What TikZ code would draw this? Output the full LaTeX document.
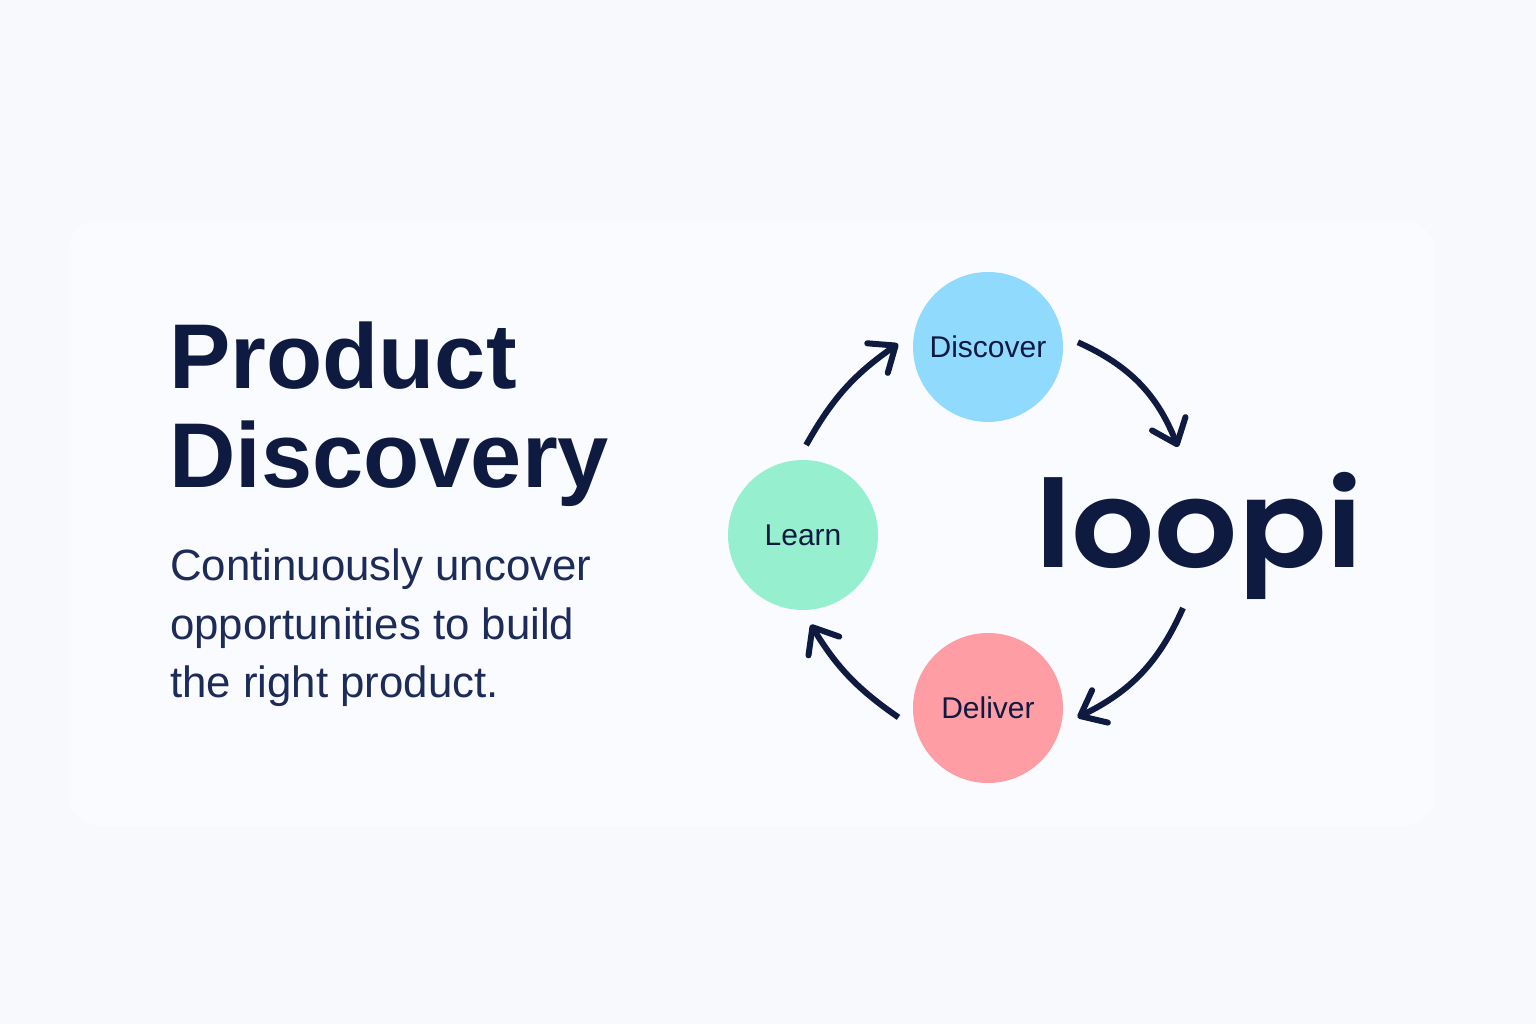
\documentclass[tikz,border=0pt]{standalone}
\usepackage{fontspec}
\setmainfont{Liberation Sans}
\newfontfamily\logofont{Poppins}[UprightFont=* SemiBold]
\usetikzlibrary{arrows.meta}
\definecolor{pagebg}{HTML}{F7F9FD}
\definecolor{cardbg}{HTML}{FAFBFE}
\definecolor{inkdark}{HTML}{0F1A40}
\definecolor{inksoft}{HTML}{1D2B58}
\definecolor{discoverblue}{HTML}{90DBFD}
\definecolor{learngreen}{HTML}{96EFCE}
\definecolor{deliverred}{HTML}{FE9DA3}
\tikzset{
  phase/.style={circle, minimum size=150pt, inner sep=0pt, outer sep=15pt, text=inkdark,
    font=\fontsize{30}{34}\selectfont},
  cycle arrow/.style={draw=inkdark, line width=6pt,
    -{Straight Barb[length=22pt, width=36pt, round]}}
}
\begin{document}
\begin{tikzpicture}[x=1pt, y=1pt]
  % pozadie
  \fill[pagebg] (0,0) rectangle (1536,1024);
  \useasboundingbox (0,0) rectangle (1536,1024);
  \fill[cardbg, rounded corners=32pt] (68,198) rectangle (1435,804);

  % text vlavo
  \node[anchor=north west, inner sep=0pt, align=left, text=inkdark,
    font=\fontsize{92}{99}\selectfont\bfseries] (title) at (169,702)
    {Product\\Discovery};
  \node[anchor=north west, inner sep=0pt, align=left, text=inksoft,
    font=\fontsize{43.8}{58.5}\selectfont] (subtitle) at (170,475)
    {Continuously uncover\\opportunities to build\\the right product.};

  % faza cyklu
  \foreach \name/\x/\y/\col/\label in {discover/988/677/discoverblue/Discover,
      learn/803/489/learngreen/Learn, deliver/988/316/deliverred/Deliver}
    \node[phase, fill=\col] (\name) at (\x,\y) {\label};

  % logo
  \node[inner sep=0pt, text=inkdark, font=\fontsize{132}{132}\selectfont\logofont]
    (loopi) at (1199,488) {\scalebox{0.99}[0.92]{loopi}};
  \coordinate (logotop) at (1178,577);
  \coordinate (logobottom) at (1183,416);

  % sipky
  \draw[cycle arrow] (discover.3) to[bend left=22] (logotop);
  \draw[cycle arrow] (logobottom) to[bend left=20] (deliver.-6);
  \draw[cycle arrow] (deliver.186) to[bend left=12] (learn.-85);
  \draw[cycle arrow] (learn.88) to[bend left=13] (discover.178);
\end{tikzpicture}
\end{document}
